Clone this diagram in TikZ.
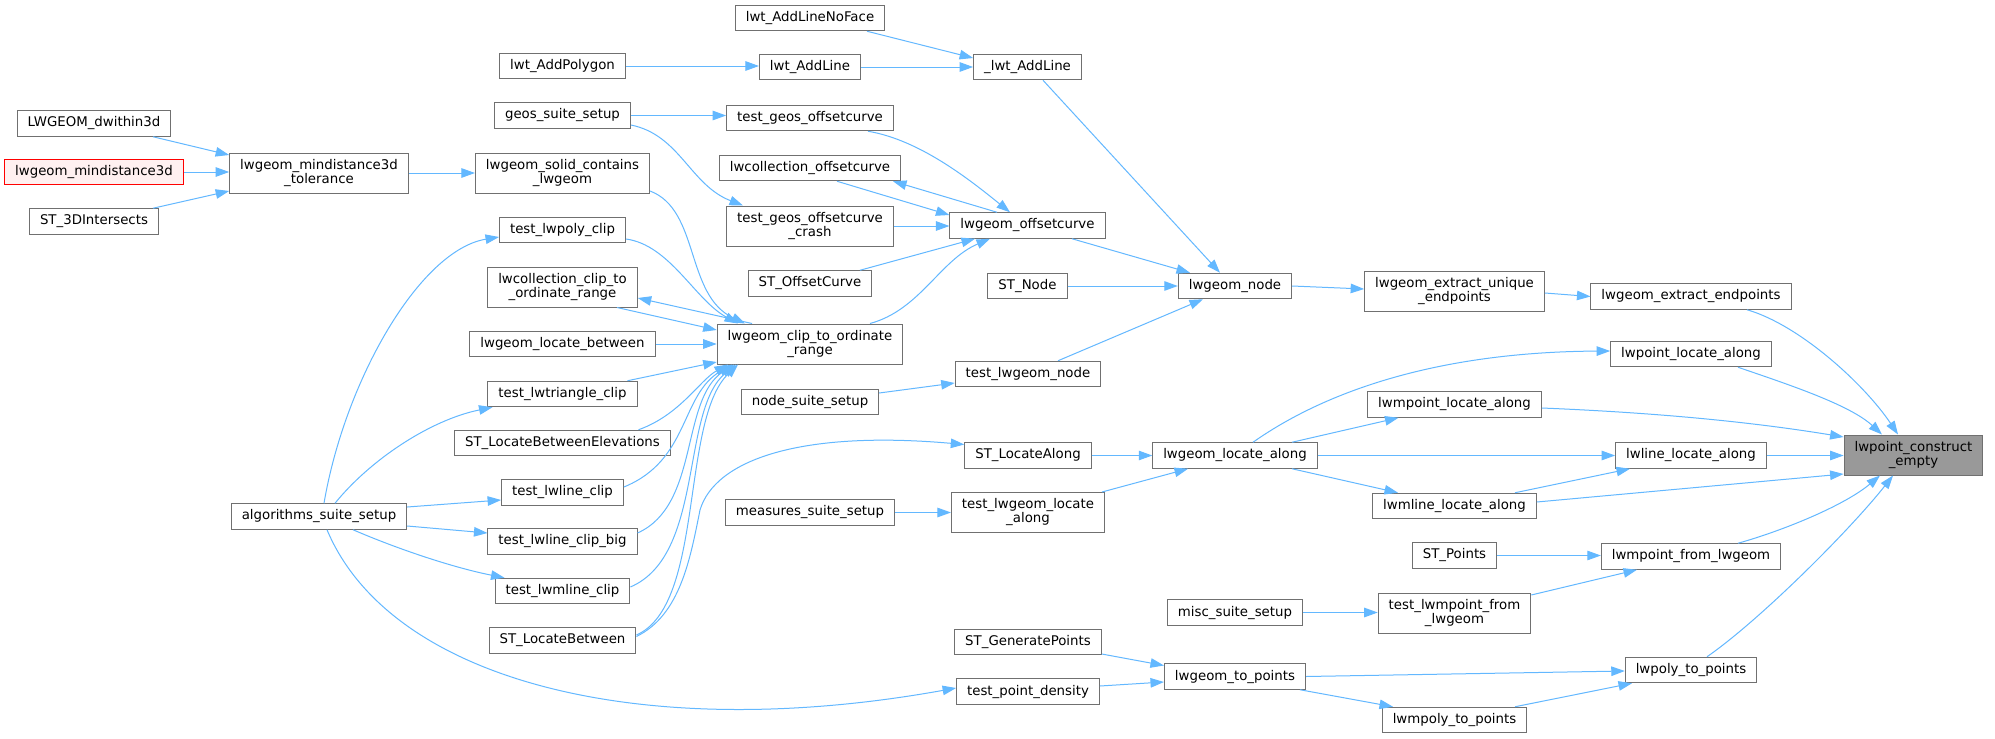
\documentclass[tikz,border=0pt]{standalone}
\usepackage{fontspec}
\newfontfamily\nodefont{DejaVu Sans}
\usetikzlibrary{arrows.meta,calc}
\definecolor{edgeblue}{HTML}{63B8FF}
\definecolor{nodegray}{HTML}{707070}
\definecolor{rootgray}{HTML}{999999}
\definecolor{truncfill}{HTML}{FFF0F0}
\begin{document}
\begin{tikzpicture}[x=1pt,y=-1pt,
  nbox/.style={draw=nodegray, fill=white, line width=1pt, inner xsep=10.5pt, inner ysep=0pt,
    minimum height=25.5pt, font={\nodefont\fontsize{13.33}{14}\selectfont}},
  nbox2/.style={nbox, align=center, minimum height=40pt},
  rootbox/.style={nbox2, fill=rootgray},
  truncbox/.style={nbox, draw=red, fill=truncfill},
  calln/.style={draw=edgeblue, line width=1pt, -{Triangle[length=13.5pt,width=9.5pt]}}]
\fill[white] (0,0) rectangle (1995,739);
\useasboundingbox (0,0) rectangle (1995,739);

% column 1
\node[nbox] (dwithin) at (94,123.5) {LWGEOM\_dwithin3d};
\node[truncbox] (mind) at (94,172) {lwgeom\_mindistance3d};
\node[nbox] (3di) at (94,221.5) {ST\_3DIntersects};
% column 2
\node[nbox2] (tol) at (319,173) {lwgeom\_mindistance3d\\\_tolerance};
\node[nbox] (algo) at (319,516.5) {algorithms\_suite\_setup};
% column 3
\node[nbox] (addpoly) at (562.5,66) {lwt\_AddPolygon};
\node[nbox] (geos) at (562.5,115.5) {geos\_suite\_setup};
\node[nbox2] (solid) at (562.5,173) {lwgeom\_solid\_contains\\\_lwgeom};
\node[nbox] (tlpc) at (562.5,230) {test\_lwpoly\_clip};
\node[nbox2] (lwcclip) at (562.5,287) {lwcollection\_clip\_to\\\_ordinate\_range};
\node[nbox] (locbet) at (562.5,344) {lwgeom\_locate\_between};
\node[nbox] (tltri) at (562.5,394) {test\_lwtriangle\_clip};
\node[nbox] (stlbe) at (562.5,443) {ST\_LocateBetweenElevations};
\node[nbox] (tlc) at (562.5,492.5) {test\_lwline\_clip};
\node[nbox] (tlcb) at (562.5,541.5) {test\_lwline\_clip\_big};
\node[nbox] (tmlc) at (562.5,591) {test\_lwmline\_clip};
\node[nbox] (stlb) at (562.5,640.5) {ST\_LocateBetween};
% column 4
\node[nbox] (noface) at (810,18) {lwt\_AddLineNoFace};
\node[nbox] (addline) at (810,67) {lwt\_AddLine};
\node[nbox] (tgo) at (810,118) {test\_geos\_offsetcurve};
\node[nbox] (lwcoff) at (810,168) {lwcollection\_offsetcurve};
\node[nbox2] (tgoc) at (810,226) {test\_geos\_offsetcurve\\\_crash};
\node[nbox] (stoff) at (810,283.5) {ST\_OffsetCurve};
\node[nbox2] (clip) at (810,344) {lwgeom\_clip\_to\_ordinate\\\_range};
\node[nbox] (nodesuite) at (810,402) {node\_suite\_setup};
\node[nbox] (measures) at (810,512.5) {measures\_suite\_setup};
% column 5
\node[nbox] (laddline) at (1027.5,67) {\_lwt\_AddLine};
\node[nbox] (off) at (1027.5,225.5) {lwgeom\_offsetcurve};
\node[nbox] (stnode) at (1027.5,286) {ST\_Node};
\node[nbox] (tnode) at (1028,374) {test\_lwgeom\_node};
\node[nbox] (stla) at (1028,455.5) {ST\_LocateAlong};
\node[nbox2] (tlla) at (1028,512.5) {test\_lwgeom\_locate\\\_along};
\node[nbox] (stgen) at (1028,642) {ST\_GeneratePoints};
\node[nbox] (tpd) at (1028,691.5) {test\_point\_density};
% column 6
\node[nbox] (node) at (1235,286) {lwgeom\_node};
\node[nbox] (locala) at (1235,455.5) {lwgeom\_locate\_along};
\node[nbox] (misc) at (1235,612.5) {misc\_suite\_setup};
\node[nbox] (topts) at (1235,676.5) {lwgeom\_to\_points};
% column 7
\node[nbox2] (uniq) at (1454.5,291) {lwgeom\_extract\_unique\\\_endpoints};
\node[nbox] (mptloc) at (1454.5,404.5) {lwmpoint\_locate\_along};
\node[nbox] (mlloc) at (1454.5,506) {lwmline\_locate\_along};
\node[nbox] (stpoints) at (1454.5,555.5) {ST\_Points};
\node[nbox2] (tmpfrom) at (1454.5,613) {test\_lwmpoint\_from\\\_lwgeom};
\node[nbox] (mpolypts) at (1454.5,720) {lwmpoly\_to\_points};
% column 8
\node[nbox] (endp) at (1691,296.5) {lwgeom\_extract\_endpoints};
\node[nbox] (ptloc) at (1691,354) {lwpoint\_locate\_along};
\node[nbox] (lnloc) at (1691,455.5) {lwline\_locate\_along};
\node[nbox] (mpfrom) at (1691,556.5) {lwmpoint\_from\_lwgeom};
\node[nbox] (polypts) at (1691,670) {lwpoly\_to\_points};
% root
\node[rootbox] (root) at (1913.5,455) {lwpoint\_construct\\\_empty};

% ---- edges, right part
\draw[calln] ($(noface.south)+(57,0)$) -- ($(laddline.west)+(0,-9)$);
\draw[calln] (addpoly.east) -- (addpoly.east -| addline.west);
\draw[calln] (addline.east) -- (addline.east -| laddline.west);
\draw[calln] ($(laddline.south)+(15.5,0)$) -- ($(node.north)+(-15,0)$);
\draw[calln] (geos.east) -- (geos.east -| tgo.west);
\draw[calln] ($(geos.east)+(0,9.5)$) .. controls (680,135) and (690,185) .. ($(tgoc.north)+(-67,0)$);
\draw[calln] ($(tgo.south)+(58,0)$) .. controls (920,140) and (970,180) .. ($(off.north)+(-17.5,0)$);
\draw[calln] ($(lwcoff.south)+(27,0)$) -- ($(off.west)+(0,-10.5)$);
\draw[calln] ($(off.north)+(-30.5,0)$) -- ($(lwcoff.south)+(83,0)$);
\draw[calln] (tgoc.east) -- (tgoc.east -| off.west);
\draw[calln] ($(stoff.north)+(50,0)$) -- ($(off.south)+(-52.5,0)$);
\draw[calln] ($(clip.north)+(60,0)$) .. controls (920,310) and (940,260) .. ($(off.south)+(-37.5,0)$);
\draw[calln] ($(off.south)+(44.5,0)$) -- ($(node.north)+(-45,0)$);
\draw[calln] (stnode.east) -- (stnode.east -| node.west);
\draw[calln] ($(tnode.north)+(30,0)$) -- ($(node.south)+(-32,0)$);
\draw[calln] (node.east) -- ($(uniq.west)+(0,-2)$);
\draw[calln] ($(uniq.east)+(0,2)$) -- (endp.west);
\draw[calln] ($(endp.south)+(56,0)$) .. controls (1800,325) and (1865,385) .. ($(root.north)+(-15.5,0)$);
\draw[calln] ($(ptloc.south)+(47,0)$) .. controls (1790,385) and (1850,405) .. ($(root.north)+(-31.5,0)$);
\draw[calln] ($(mptloc.east)+(0,3.5)$) .. controls (1640,412) and (1740,420) .. ($(root.west)+(0,-18)$);
\draw[calln] (lnloc.east) -- (lnloc.east -| root.west);
\draw[calln] ($(mlloc.east)+(0,-4)$) -- ($(root.west)+(0,19)$);
\draw[calln] ($(mpfrom.north)+(47,0)$) .. controls (1785,530) and (1845,505) .. ($(root.south)+(-33.5,0)$);
\draw[calln] ($(polypts.north)+(16,0)$) .. controls (1760,620) and (1850,530) .. ($(root.south)+(-20.5,0)$);
\draw[calln] ($(locala.north)+(18,0)$) .. controls (1320,395) and (1430,352) .. ($(ptloc.west)+(0,-3)$);
\draw[calln] ($(locala.north)+(57,0)$) -- ($(mptloc.south)+(-56,0)$);
\draw[calln] (locala.east) -- (locala.east -| lnloc.west);
\draw[calln] ($(locala.south)+(57,0)$) -- ($(mlloc.north)+(-56.5,0)$);
\draw[calln] ($(mlloc.north)+(60.5,0)$) -- ($(lnloc.south)+(-61,0)$);
\draw[calln] (stla.east) -- (stla.east -| locala.west);
\draw[calln] ($(tlla.north)+(74,0)$) -- ($(locala.south)+(-47,0)$);
\draw[calln] (measures.east) -- (measures.east -| tlla.west);
\draw[calln] ($(nodesuite.east)+(0,-9)$) -- ($(tnode.west)+(0,9)$);
\draw[calln] (stpoints.east) -- (stpoints.east -| mpfrom.west);
\draw[calln] ($(tmpfrom.east)+(0,-18)$) -- ($(mpfrom.south)+(-54,0)$);
\draw[calln] (misc.east) -- (misc.east -| tmpfrom.west);
\draw[calln] ($(stgen.east)+(0,12)$) -- ($(topts.west)+(0,-11)$);
\draw[calln] ($(tpd.east)+(0,-5.5)$) -- ($(topts.west)+(0,5.5)$);
\draw[calln] (topts.east) -- ($(polypts.west)+(0,1)$);
\draw[calln] ($(topts.south)+(65,0)$) -- ($(mpolypts.north)+(-61.5,0)$);
\draw[calln] ($(mpolypts.north)+(60.5,0)$) -- ($(polypts.south)+(-59,0)$);

% ---- edges, left part
\draw[calln] ($(dwithin.south)+(59,0)$) -- ($(tol.west)+(0,-18)$);
\draw[calln] (mind.east) -- (mind.east -| tol.west);
\draw[calln] ($(3di.north)+(59,0)$) -- ($(tol.west)+(0,18)$);
\draw[calln] (tol.east) -- (tol.east -| solid.west);
\draw[calln] ($(solid.east)+(0,18)$) .. controls (700,210) and (685,295) .. ($(clip.north)+(-65,0)$);
\draw[calln] ($(tlpc.east)+(0,9)$) .. controls (670,245) and (695,300) .. ($(clip.north)+(-72,0)$);
\draw[calln] ($(lwcclip.south)+(54.5,0)$) -- ($(clip.west)+(0,-14)$);
\draw[calln] ($(clip.north)+(-58,0)$) -- ($(lwcclip.east)+(0,11)$);
\draw[calln] (locbet.east) -- (locbet.east -| clip.west);
\draw[calln] ($(tltri.north)+(65,0)$) -- ($(clip.west)+(0,18)$);
\draw[calln] ($(stlbe.north)+(76,0)$) .. controls (680,415) and (700,380) .. ($(clip.south)+(-82,0)$);
\draw[calln] ($(tlc.east)+(0,-5.5)$) .. controls (690,460) and (680,395) .. ($(clip.south)+(-78,0)$);
\draw[calln] ($(tlcb.east)+(0,-8.5)$) .. controls (700,505) and (680,400) .. ($(clip.south)+(-76,0)$);
\draw[calln] ($(tmlc.east)+(0,-4)$) .. controls (705,555) and (680,410) .. ($(clip.south)+(-74,0)$);
\draw[calln] ($(stlb.east)+(0,-5.5)$) .. controls (705,605) and (680,420) .. ($(clip.south)+(-72,0)$);
\draw[calln] ($(stlb.east)+(0,-4)$) .. controls (680,615) and (690,560) .. (700,510) .. controls (715,460) and (800,430) .. ($(stla.west)+(0,-11)$);
\draw[calln] ($(algo.north)+(5,0)$) .. controls (345,380) and (420,250) .. ($(tlpc.west)+(0,7)$);
\draw[calln] ($(algo.north)+(16,0)$) .. controls (370,460) and (430,420) .. ($(tltri.south)+(-70,0)$);
\draw[calln] ($(algo.east)+(0,-9.5)$) -- ($(tlc.west)+(0,7.5)$);
\draw[calln] ($(algo.east)+(0,9.5)$) -- ($(tlcb.west)+(0,-8.5)$);
\draw[calln] ($(algo.south)+(34,0)$) .. controls (400,550) and (455,568) .. ($(tmlc.north)+(-58,0)$);
\draw[calln] ($(algo.south)+(8,0)$) .. controls (390,680) and (640,745) .. ($(tpd.west)+(0,-3.5)$);
\end{tikzpicture}
\end{document}
